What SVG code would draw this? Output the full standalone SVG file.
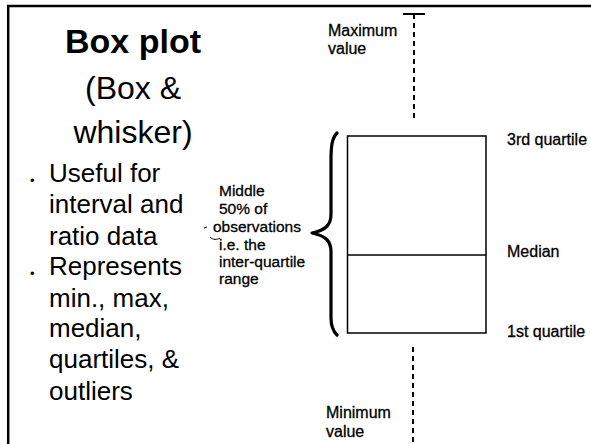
<svg xmlns="http://www.w3.org/2000/svg" width="591" height="444" viewBox="0 0 591 444">
<style>
text{font-family:"Liberation Sans",Arial,sans-serif;fill:#000}
.title{font-size:34px;font-weight:bold;text-anchor:middle}
.sub{font-size:32px;text-anchor:middle}
.bul{font-size:26px}
.dot{font-size:13px}
.lab{font-size:16px;stroke:#000;stroke-width:0.3}
.mid{font-size:15.5px;stroke:#000;stroke-width:0.3}
.dash{stroke:#000;stroke-width:2;stroke-dasharray:5 4;fill:none}
.box{stroke:#000;stroke-width:1.5;fill:#fff}
</style>
<rect width="591" height="444" fill="#fff"/>
<g id="frame" stroke="#000" stroke-width="2.5" fill="none">
<line x1="7" y1="6" x2="591" y2="6"/>
<line x1="8.2" y1="5" x2="8.2" y2="444"/>
</g>
<g id="title">
<text class="title" x="133" y="53">Box plot</text>
<text class="sub" x="133" y="99">(Box &amp;</text>
<text class="sub" x="133" y="143">whisker)</text>
</g>
<g id="bullets">
<text class="dot" x="30" y="185">•</text>
<text class="bul" x="49" y="182">Useful for</text>
<text class="bul" x="49" y="213">interval and</text>
<text class="bul" x="49" y="245">ratio data</text>
<text class="dot" x="30" y="278">•</text>
<text class="bul" x="49" y="275">Represents</text>
<text class="bul" x="49" y="307">min., max,</text>
<text class="bul" x="49" y="337">median,</text>
<text class="bul" x="49" y="368">quartiles, &amp;</text>
<text class="bul" x="49" y="400">outliers</text>
</g>
<g id="connectors">
<line x1="403" y1="14" x2="425" y2="14" stroke="#000" stroke-width="2"/>
<line x1="414" y1="14" x2="414" y2="19" stroke="#000" stroke-width="2"/>
<line class="dash" x1="414" y1="23" x2="414" y2="121"/>
<line class="dash" x1="413" y1="347" x2="413" y2="444"/>
</g>
<g id="box">
<rect class="box" x="347.5" y="136" width="138.5" height="197"/>
<line x1="347.5" y1="255" x2="486" y2="255" stroke="#000" stroke-width="1.5"/>
</g>
<g id="brace">
<path d="M337 133 C332 138 331 146 331 160 L331 214 C331 225 326 230 312 233 C326 236 331 241 331 252 L331 318 C331 327 333 331 337 335" fill="none" stroke="#000" stroke-width="3.2" stroke-linecap="round" stroke-linejoin="round"/>
</g>
<g id="labels">
<text class="lab" x="328" y="36">Maximum</text>
<text class="lab" x="328" y="54">value</text>
<text class="lab" x="507" y="145">3rd quartile</text>
<text class="lab" x="507" y="257">Median</text>
<text class="lab" x="507" y="337">1st quartile</text>
<text class="lab" x="326" y="418">Minimum</text>
<text class="lab" x="326" y="437">value</text>
</g>
<g id="middle-label">
<text class="mid" x="219" y="196">Middle</text>
<text class="mid" x="219" y="214">50% of</text>
<text class="mid" x="213" y="232">observations</text>
<text class="mid" x="219" y="249.5">i.e. the</text>
<text class="mid" x="219" y="267">inter-quartile</text>
<text class="mid" x="219" y="284">range</text>
<path d="M204 228 L207 227 M210 237 C213 240 217 240 220 238" fill="none" stroke="#000" stroke-width="1"/>
</g>
</svg>
